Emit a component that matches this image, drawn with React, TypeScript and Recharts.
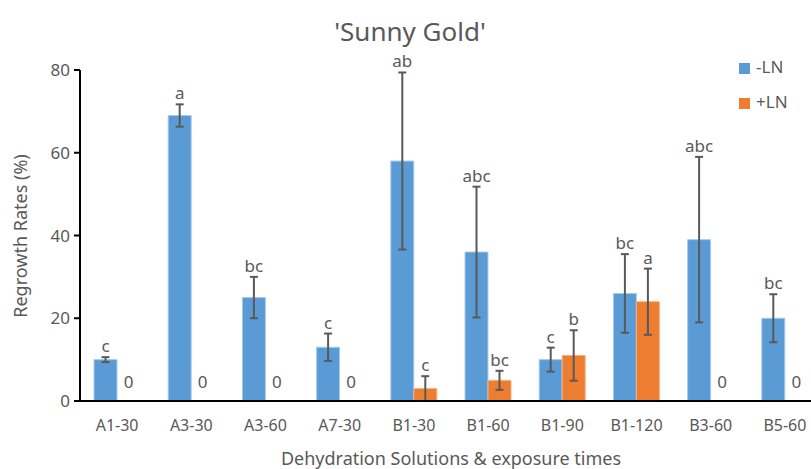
import React from "react";
import { BarChart, Bar, XAxis, YAxis, ErrorBar, LabelList } from "recharts";

const categories = ["A1-30", "A3-30", "A3-60", "A7-30", "B1-30", "B1-60", "B1-90", "B1-120", "B3-60", "B5-60"];
const minusLN = [10, 69, 25, 13, 58, 36, 10, 26, 39, 20];
const minusErr = [0.6, 2.7, 5, 3.3, 21.4, 15.8, 2.9, 9.5, 20, 5.8];
const minusLetters = ["c", "a", "bc", "c", "ab", "abc", "c", "bc", "abc", "bc"];
const plusLN = [0, 0, 0, 0, 3, 5, 11, 24, 0, 0];
const plusErr = [0, 0, 0, 0, 3, 2.3, 6.1, 8, 0, 0];
const plusLetters = ["", "", "", "", "c", "bc", "b", "a", "", ""];
const yTicks = [0, 20, 40, 60, 80];

const BLUE = "#5B9BD5";
const ORANGE = "#ED7D31";
const TXT = "#595959";
const FONT = "'Noto Sans', 'Open Sans', sans-serif";

const data = categories.map((c, i) => ({
  name: c,
  minus: minusLN[i],
  minusErr: minusErr[i],
  plus: plusLN[i],
  plusErr: plusErr[i],
}));

// letter above the error bar; the -LN series also writes "0" where +LN is empty
function makeLabel(values: number[], errs: number[], letters: string[], markZero: boolean) {
  return (props: any) => {
    const { x, y, width, height, value } = props;
    const i = categories.indexOf(value);
    if (i < 0 || values[i] === 0) return null;
    const w = Number(width);
    const cx = Number(x) + w / 2;
    const perUnit = Number(height) / values[i];
    const top = Number(y) - perUnit * errs[i];
    return (
      <g>
        <text x={cx} y={top - 5} textAnchor="middle" fill={TXT} fontSize={17} fontFamily={FONT}>
          {letters[i]}
        </text>
        {markZero && plusLN[i] === 0 ? (
          <text x={cx + w} y={Number(y) + Number(height) - 13} textAnchor="middle" fill={TXT} fontSize={17} fontFamily={FONT}>
            0
          </text>
        ) : null}
      </g>
    );
  };
}

const legendItems = [
  { label: "-LN", color: BLUE, y: 68 },
  { label: "+LN", color: ORANGE, y: 103 },
];

export default function App() {
  // the plot runs a little past the right edge, as in the source figure
  return (
    <div style={{ position: "absolute", left: 0, top: 0, width: 811, height: 469, overflow: "hidden", background: "#fff" }}>
      <style>{"body{margin:0}"}</style>
      <BarChart
        width={822}
        height={469}
        data={data}
        margin={{ top: 70, right: 0, left: 0, bottom: 0 }}
        barGap={0}
        barCategoryGap="19%"
      >
        <text x={410} y={41} textAnchor="middle" fill={TXT} fontSize={26} fontFamily={FONT}>
          'Sunny Gold'
        </text>
        <text
          x={22}
          y={236}
          transform="rotate(-90 22 236)"
          textAnchor="middle"
          dominantBaseline="middle"
          fill={TXT}
          fontSize={18}
          fontFamily={FONT}
        >
          Regrowth Rates (%)
        </text>
        {legendItems.map((it) => (
          <g key={it.label}>
            <rect x={739} y={it.y - 5} width={11} height={11} fill={it.color} />
            <text x={756} y={it.y} dominantBaseline="middle" fill={TXT} fontSize={17} fontFamily={FONT}>
              {it.label}
            </text>
          </g>
        ))}
        <XAxis
          dataKey="name"
          height={68}
          tickLine={false}
          tickMargin={13}
          axisLine={{ stroke: "#000", strokeWidth: 2 }}
          tick={{ fill: TXT, fontSize: 16, fontFamily: FONT }}
          interval={0}
          label={{
            value: "Dehydration Solutions & exposure times",
            position: "insideBottom",
            offset: 4,
            dx: 0,
            fill: TXT,
            fontSize: 18,
            fontFamily: FONT,
          }}
        />
        <YAxis
          width={80}
          domain={[0, 80]}
          ticks={yTicks}
          tickSize={6}
          tickMargin={4}
          tickLine={{ stroke: "#000", strokeWidth: 2 }}
          axisLine={{ stroke: "#000", strokeWidth: 2 }}
          tick={{ fill: TXT, fontSize: 17, fontFamily: FONT }}
        />
        <Bar dataKey="minus" name="-LN" fill={BLUE} stroke="#A9CBEA" strokeWidth={1} barSize={23} isAnimationActive={false}>
          <ErrorBar dataKey="minusErr" width={4} stroke="#595959" strokeWidth={2} isAnimationActive={false} />
          <LabelList dataKey="name" content={makeLabel(minusLN, minusErr, minusLetters, true)} />
        </Bar>
        <Bar dataKey="plus" name="+LN" fill={ORANGE} stroke="#F4B183" strokeWidth={1} barSize={23} isAnimationActive={false}>
          <ErrorBar dataKey="plusErr" width={4} stroke="#595959" strokeWidth={2} isAnimationActive={false} />
          <LabelList dataKey="name" content={makeLabel(plusLN, plusErr, plusLetters, false)} />
        </Bar>
      </BarChart>
    </div>
  );
}
